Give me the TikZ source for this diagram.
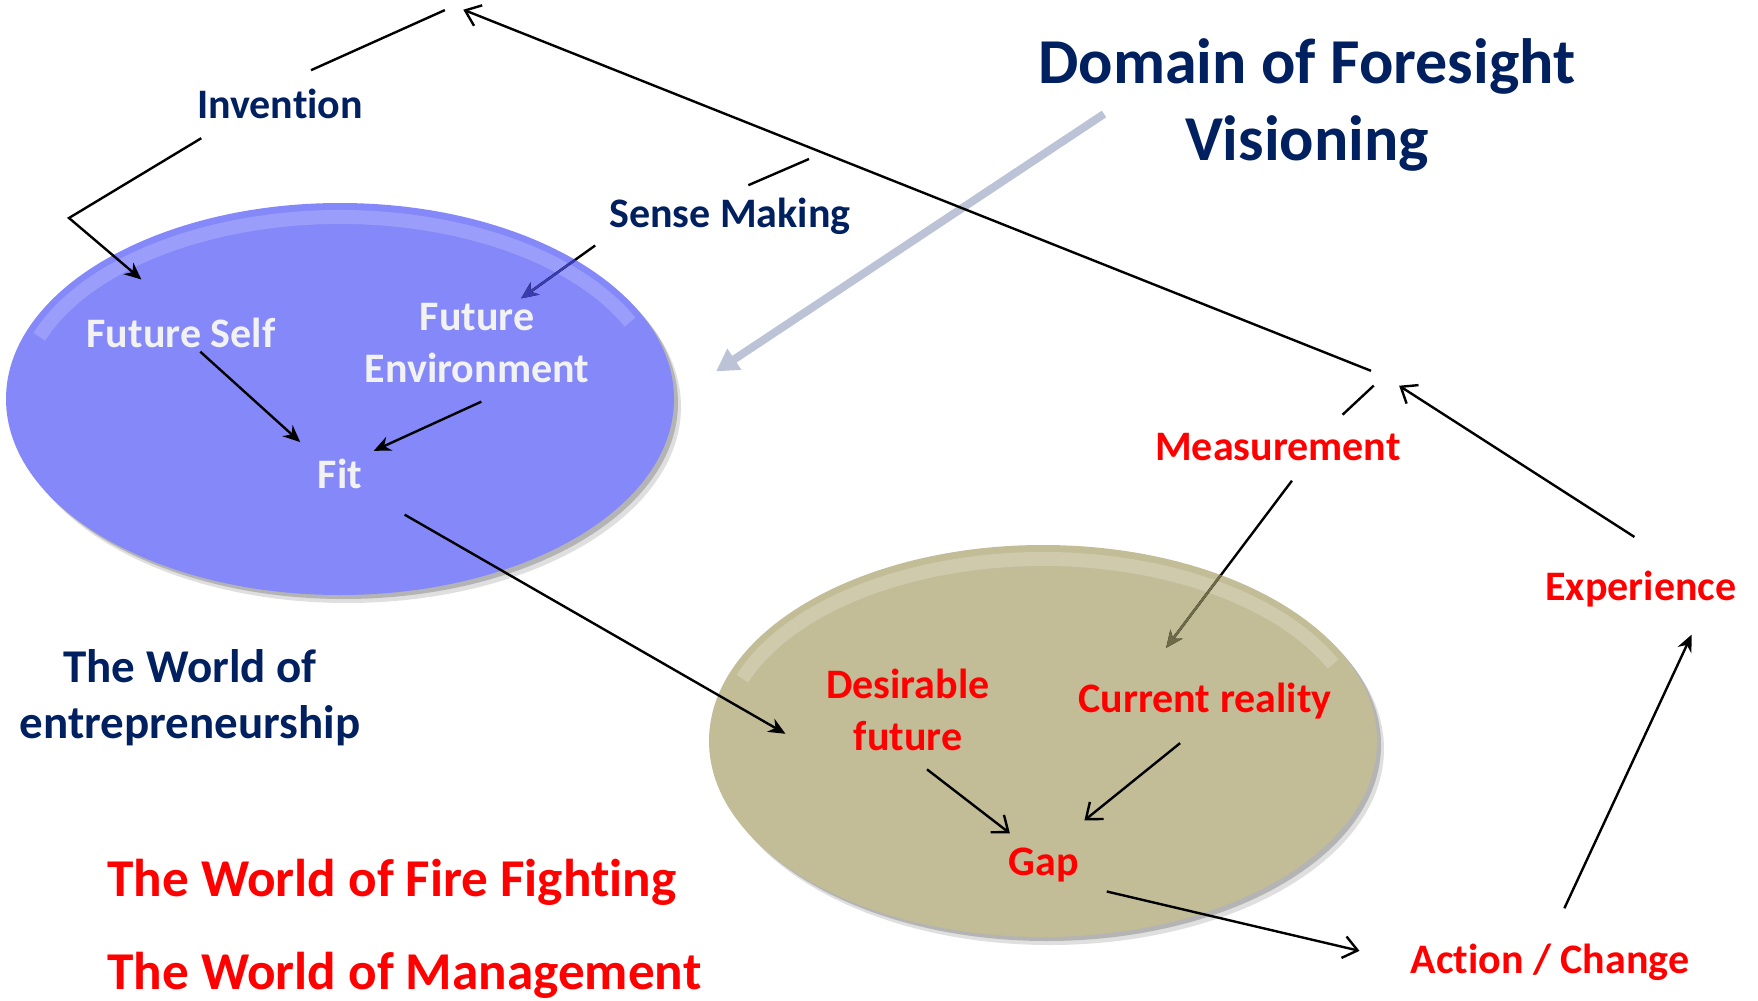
\documentclass[tikz,border=0pt]{standalone}
\usepackage{fontspec}
\setmainfont{Carlito}[Ligatures=CommonOff]
\usetikzlibrary{shapes.geometric,arrows.meta,backgrounds,positioning}

\definecolor{inkblue}{HTML}{002060}
\definecolor{snow}{HTML}{F2F2F2}
\definecolor{discblue}{HTML}{8488F9}
\definecolor{discsand}{HTML}{C2BD97}
\definecolor{bluetint}{HTML}{383CB0}
\definecolor{sandtint}{HTML}{6E6A48}
\definecolor{mist}{HTML}{BCC3D6}

\begin{document}
\begin{tikzpicture}[x=0.5pt, y=-0.5pt,
    lbl/.style={font=\bfseries\fontsize{21}{26}\selectfont, inner sep=2pt, align=center, anchor=base},
    big/.style={font=\bfseries\fontsize{32}{38.5}\selectfont, inner sep=2pt, align=center, anchor=base},
    world/.style={font=\bfseries\fontsize{26.6}{28}\selectfont, inner sep=2pt, anchor=base west},
    disc/.style={ellipse, minimum width=334pt, minimum height=196pt, inner sep=0pt},
    pointer/.style={-{Stealth[length=8.5pt,width=7.5pt]}, line width=1.2pt},
    opener/.style={-{Straight Barb[length=7pt,width=11pt]}, line width=1.2pt},
    plain/.style={line width=1.2pt},
    greyarrow/.style={-{Triangle[length=11pt,width=12pt]}, line width=4pt, mist}]
    \useasboundingbox (0,0) rectangle (1758,1001);

    % the two worlds
    \begin{scope}[on background layer]
        \fill[white] (0,0) rectangle (1758,1001);
        \fill[black!50, opacity=0.25] (347,407) ellipse [x radius=167pt, y radius=98pt];
        \fill[black!50, opacity=0.45] (344,403) ellipse [x radius=167pt, y radius=98pt];
        \node (blueell) [disc, fill=discblue] at (340,399) {};
        \draw[white, opacity=0.18, line width=7pt] ([shift={(160:160pt and 91pt)}]blueell.center) arc [start angle=160, end angle=25, x radius=160pt, y radius=91pt];
        \fill[black!50, opacity=0.25] (1050,749) ellipse [x radius=167pt, y radius=98pt];
        \fill[black!50, opacity=0.45] (1047,745) ellipse [x radius=167pt, y radius=98pt];
        \node (sandell) [disc, fill=discsand] at (1043,741) {};
        \draw[white, opacity=0.2, line width=7pt] ([shift={(160:160pt and 91pt)}]sandell.center) arc [start angle=160, end angle=25, x radius=160pt, y radius=91pt];
    \end{scope}

    \node (domain) [big, inkblue] at (1307,160) {Domain of Foresight\\Visioning};
    \node (invent) [lbl, inkblue] at (280,118) {Invention};
    \node (sense) [lbl, inkblue] at (730,227) {Sense Making};
    \node (fself) [lbl, snow] at (181,347) {Future Self};
    \node (fenv) [lbl, snow] at (477,382) {Future\\Environment};
    \node (fit) [lbl, snow] at (340,488) {Fit};
    \node (entre) [lbl, inkblue, font=\bfseries\fontsize{23.5}{28}\selectfont] at (190,738) {The World of\\entrepreneurship};
    \node (measure) [lbl, red] at (1278,460) {Measurement};
    \node (exper) [lbl, red] at (1641,600) {Experience};
    \node (desire) [lbl, red] at (908,750) {Desirable\\future};
    \node (current) [lbl, red] at (1205,712) {Current reality};
    \node (gap) [lbl, red] at (1044,875) {Gap};
    \node (action) [lbl, red] at (1550,973) {Action / Change};
    \node (fire) [world, red] at (103,896) {The World of Fire Fighting};
    \node (manage) [world, red] at (103,989) {The World of Management};

    \coordinate (apex) at (454,6);
    \coordinate (hub) at (1384,376);
    \coordinate (ibend) at (69,218);
    \coordinate (sensejoin) at (809,159);
    \coordinate (domtail) at (1104,114);

    \draw[greyarrow, shorten >=25pt] (domtail) -- (blueell.east);

    % the loop back to the top
    \draw[opener, shorten <=7pt, shorten >=5pt] (hub) -- (apex);
    \draw[plain, shorten <=5pt, shorten >=17pt] (apex) -- (invent.north);
    \draw[pointer, shorten <=15pt, shorten >=26pt] (invent.200) -- (ibend) -- (fself.north);
    \draw[plain, shorten >=10pt] (sensejoin) -- (sense.north);
    \draw[pointer, shorten <=6pt] (sense.south west) -- (fenv.45);
    \draw[pointer, shorten >=9pt] (fself.-45) -- (fit.north west);
    \draw[pointer, shorten <=18pt, shorten >=4pt] (fenv.-50) -- (fit.north east);
    \draw[pointer, shorten <=22pt, shorten >=21pt] (fit.south east) -- (desire.south west);

    \draw[opener, shorten <=12pt, shorten >=8pt] (desire.south) -- (gap.135);
    \draw[opener, shorten <=16pt, shorten >=18pt] (current.south) -- (gap.60);
    \draw[opener, shorten <=12pt, shorten >=24pt] (gap.south east) -- (action.west);
    \draw[pointer, shorten <=17pt, shorten >=13pt] (action.north) -- (exper.-20);
    \draw[opener, shorten <=27pt, shorten >=9pt] (exper.30) -- (hub);
    \draw[plain, shorten <=10pt, shorten >=7pt] (measure.20) -- (hub);
    \draw[pointer, shorten <=10pt, shorten >=19pt] (measure.-35) -- (current.160);

    % parts seen through the discs
    \begin{scope}
        \clip (blueell.center) ellipse [x radius=167pt, y radius=98pt];
        \draw[pointer, bluetint, shorten <=6pt] (sense.south west) -- (fenv.45);
    \end{scope}
    \begin{scope}
        \clip (sandell.center) ellipse [x radius=167pt, y radius=98pt];
        \draw[pointer, sandtint, shorten <=10pt, shorten >=19pt] (measure.-35) -- (current.160);
    \end{scope}
\end{tikzpicture}
\end{document}
